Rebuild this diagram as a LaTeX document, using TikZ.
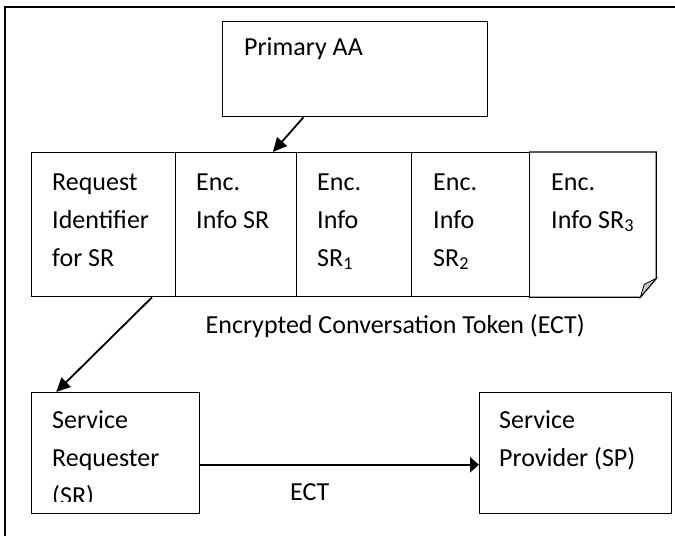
\documentclass[tikz,border=0pt]{standalone}
\usepackage{fontspec}
\setmainfont{Carlito}
\usetikzlibrary{calc,arrows.meta}
\definecolor{ink}{HTML}{000000}
\definecolor{flap}{HTML}{C8C8C8}
\tikzset{
  frame/.style={draw=ink, line width=1.2pt},
  box/.style={draw=ink, line width=1.3pt, inner sep=0pt, anchor=north west},
  lab/.style={text=ink, font=\fontsize{26}{38}\selectfont, inner sep=0pt, anchor=base west, align=left},
  link/.style={draw=ink, line width=1.8pt, -{Triangle[length=14pt,width=13pt]}},
}

\begin{document}
\begin{tikzpicture}[x=1pt,y=-1pt]
  \useasboundingbox (0,0) rectangle (675,536);
  \fill[white] (0,0) rectangle (675,536);
  \draw[frame] (5,536) -- (5,7) -- (675,7);

  \node[box, minimum width=265pt, minimum height=95pt] (paa) at (222,21) {};
  \node[lab] (paatxt) at (244,55) {Primary AA};

  % token row (anchors are at the last line's baseline)
  \node[box, minimum width=144pt, minimum height=144pt] (cellA) at (31,152) {};
  \node[box, minimum width=121pt, minimum height=144pt] (cellB) at (175,152) {};
  \node[box, minimum width=115pt, minimum height=144pt] (cellC) at (296,152) {};
  \node[box, minimum width=118pt, minimum height=144pt] (cellD) at (411,152) {};
  \node[box, draw=none, minimum width=126pt, minimum height=144pt] (cellE) at (529,152) {};
  \draw[frame, line width=1.3pt] (cellE.north west) -- (cellE.north east)
    -- ($(cellE.south east)+(0,-19)$) -- ($(cellE.south east)+(-16,0)$) -- (cellE.south west);
  \filldraw[fill=flap, draw=ink, line width=0.8pt] ($(cellE.south east)+(0,-19)$)
    -- ($(cellE.south east)+(-12,-13)$) -- ($(cellE.south east)+(-16,0)$) -- cycle;

  \node[lab] (txtA) at (52,266) {Request\\Identifier\\for SR};
  \node[lab] (txtB) at (196,228) {Enc.\\Info SR};
  \node[lab] (txtC) at (317,266) {Enc.\\Info\\SR\textsubscript{1}};
  \node[lab] (txtD) at (433,266) {Enc.\\Info\\SR\textsubscript{2}};
  \node[lab] (txtE) at (551,228) {Enc.\\Info SR\textsubscript{3}};
  \node[lab, anchor=base east] (cap) at (585,333) {Encrypted Conversation Token (ECT)};

  % requester and provider
  \node[box, minimum width=168pt, minimum height=121pt] (sr) at (31,392) {};
  \node[box, minimum width=192pt, minimum height=121pt] (sp) at (479,392) {};
  \begin{scope}
    \clip (sr.north west) rectangle ($(sr.south east)+(0,-13)$);
    \node[lab] (srtxt) at (52,504) {Service\\Requester\\(SR)};
  \end{scope}
  \node[lab] (sptxt) at (499,466) {Service\\Provider (SP)};
  \node[lab] (ectlab) at (290,500) {ECT};

  \draw[link] ($(paa.south west)!0.306!(paa.south east)$) -- ($(cellB.north west)!0.80!(cellB.north east)$);
  \draw[link] ($(cellA.south west)!0.833!(cellA.south east)$) -- ($(sr.north west)!0.149!(sr.north east)$);
  \draw[link, line width=2.2pt, -{Triangle[length=9pt,width=15pt]}] ($(sr.north east)!0.595!(sr.south east)$)
    -- ($(sp.north west)!0.595!(sp.south west)$);
\end{tikzpicture}
\end{document}
